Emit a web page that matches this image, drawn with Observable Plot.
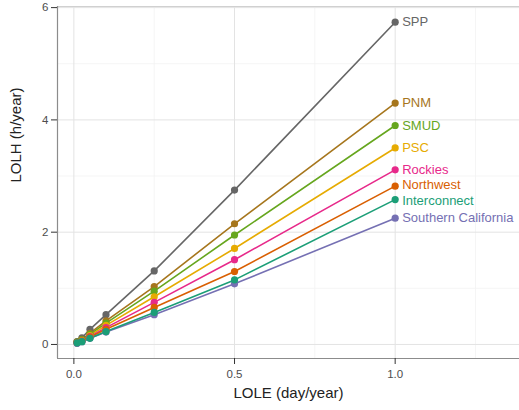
<!DOCTYPE html>
<html>
<head>
<meta charset="utf-8">
<script src="https://cdn.jsdelivr.net/npm/d3@7"></script>
<script src="https://cdn.jsdelivr.net/npm/@observablehq/plot@0.6"></script>
<style>
  html, body { margin: 0; padding: 0; background: #fff; }
  #chart svg { display: block; }
</style>
</head>
<body>
<div id="chart"></div>
<script>
const lole = [0.01, 0.025, 0.05, 0.1, 0.25, 0.5, 1.0];
const regions = ["SPP", "PNM", "SMUD", "PSC", "Rockies", "Northwest", "Southern California", "Interconnect"];
const colors = ["#666666", "#A6761D", "#66A61E", "#E6AB02", "#E7298A", "#D95F02", "#7570B3", "#1B9E77"];
const lolhSPP = [0.05, 0.12, 0.27, 0.53, 1.31, 2.75, 5.74];
const lolhPNM = [0.04, 0.09, 0.20, 0.42, 1.03, 2.15, 4.30];
const lolhSMUD = [0.04, 0.08, 0.18, 0.38, 0.95, 1.95, 3.90];
const lolhPSC = [0.03, 0.07, 0.16, 0.34, 0.85, 1.71, 3.50];
const lolhRockies = [0.03, 0.06, 0.14, 0.30, 0.75, 1.51, 3.11];
const lolhNorthwest = [0.03, 0.06, 0.13, 0.27, 0.66, 1.30, 2.82];
const lolhSoCal = [0.02, 0.05, 0.11, 0.22, 0.53, 1.08, 2.25];
const lolhInterconnect = [0.03, 0.05, 0.11, 0.23, 0.57, 1.15, 2.58];
const xTicks = [0, 0.5, 1.0];
const yTicks = [0, 2, 4, 6];
const xMinor = [0.25, 0.75, 1.25];
const yMinor = [1, 3, 5];

const series = [lolhSPP, lolhPNM, lolhSMUD, lolhPSC, lolhRockies, lolhNorthwest, lolhSoCal, lolhInterconnect];
const data = [];
regions.forEach((r, i) => series[i].forEach((v, j) => data.push({region: r, lole: lole[j], lolh: v})));
const last = data.filter(d => d.lole === lole[lole.length - 1]);
const lastMain = last.filter(d => d.region !== "Northwest" && d.region !== "Interconnect");
const lastNW = last.filter(d => d.region === "Northwest");
const lastIC = last.filter(d => d.region === "Interconnect");

const xDom = [-0.051, 1.387];
const yDom = [-0.25, 6.02];
const labelOpts = {x: "lole", y: "lolh", text: "region", fill: "region", textAnchor: "start", dx: 7, fontSize: 13};

const chart = Plot.plot({
  width: 519,
  height: 410,
  marginLeft: 57,
  marginRight: 0,
  marginTop: 6,
  marginBottom: 52,
  style: {fontFamily: "'Liberation Sans', Arial, sans-serif", fontSize: "11px", background: "#fff"},
  x: {domain: xDom},
  y: {domain: yDom},
  color: {domain: regions, range: colors},
  marks: [
    Plot.gridX(xMinor, {stroke: "#f2f2f2", strokeOpacity: 1, strokeWidth: 0.8}),
    Plot.gridY(yMinor, {stroke: "#f2f2f2", strokeOpacity: 1, strokeWidth: 0.8}),
    Plot.gridX(xTicks, {stroke: "#e3e3e3", strokeOpacity: 1, strokeWidth: 1}),
    Plot.gridY(yTicks, {stroke: "#e3e3e3", strokeOpacity: 1, strokeWidth: 1}),
    Plot.frame({stroke: "#d0d0d0"}),
    Plot.ruleX([xDom[0]], {stroke: "#8c8c8c", strokeWidth: 1.2}),
    Plot.ruleY([yDom[0]], {stroke: "#8c8c8c", strokeWidth: 1.2}),
    Plot.line(data, {x: "lole", y: "lolh", z: "region", stroke: "region", strokeWidth: 1.6}),
    Plot.dot(data, {x: "lole", y: "lolh", fill: "region", r: 3.6}),
    Plot.text(lastMain, labelOpts),
    Plot.text(lastNW, {...labelOpts, dy: -1.5}),
    Plot.text(lastIC, {...labelOpts, dy: 1.5}),
    Plot.axisX(xTicks, {tickFormat: d3.format(".1f"), tickSize: 6, tickPadding: 5, stroke: "#333", color: "#4d4d4d", fontSize: 11.5, label: null}),
    Plot.axisY(yTicks, {tickFormat: d3.format("d"), tickSize: 6, tickPadding: 3, stroke: "#333", color: "#4d4d4d", fontSize: 11.5, label: null}),
    Plot.text(["LOLE (day/year)"], {frameAnchor: "bottom", dy: 39, fontSize: 15, fill: "#222"}),
    Plot.text(["LOLH (h/year)"], {frameAnchor: "left", dx: -41, rotate: -90, fontSize: 15, fill: "#222"})
  ]
});
document.getElementById("chart").appendChild(chart);
</script>
</body>
</html>
